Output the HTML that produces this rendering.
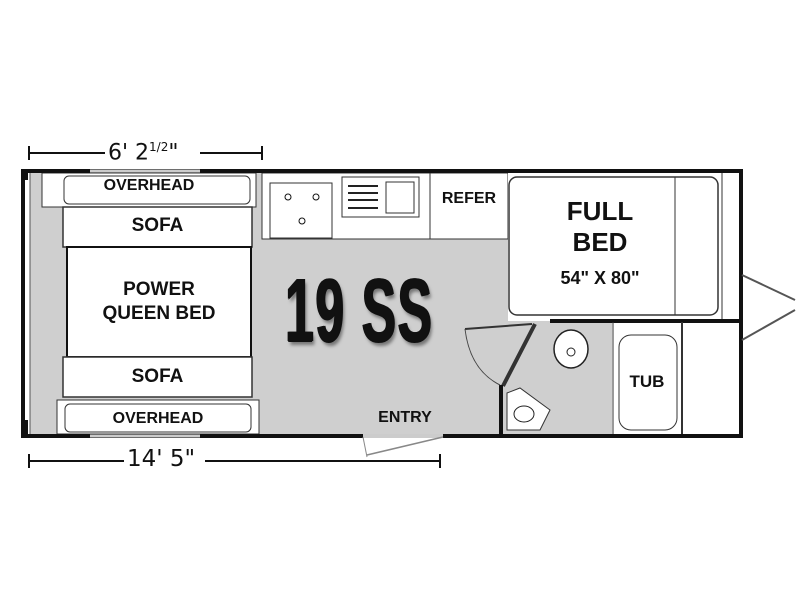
<!DOCTYPE html><html><head><style>
body{margin:0;width:800px;height:600px;background:#fff;position:relative;overflow:hidden;font-family:"Liberation Sans",sans-serif}
.a{position:absolute;box-sizing:border-box}
.t{position:absolute;font-weight:bold;color:#111;text-align:center;white-space:nowrap}
</style></head><body>
<svg class="a" style="left:0;top:0" width="800" height="600">
<g stroke="#111" stroke-width="2">
<line x1="29" y1="153" x2="105" y2="153"/><line x1="29" y1="146" x2="29" y2="160"/>
<line x1="200" y1="153" x2="262" y2="153"/><line x1="262" y1="146" x2="262" y2="160"/>
<line x1="29" y1="461" x2="124" y2="461"/><line x1="29" y1="454" x2="29" y2="468"/>
<line x1="205" y1="461" x2="440" y2="461"/><line x1="440" y1="454" x2="440" y2="468"/>
</g>
<rect x="24" y="172" width="716" height="264" fill="#cfcfcf"/>
<rect x="24" y="172" width="6" height="264" fill="#fff" stroke="#555"/>
<rect x="42" y="173" width="214" height="34" fill="#fff" stroke="#333"/>
<rect x="63" y="207" width="189" height="40" fill="#fff" stroke="#333" stroke-width="1.5"/>
<rect x="67" y="247" width="184" height="110" fill="#fff" stroke="#111" stroke-width="2"/>
<rect x="63" y="357" width="189" height="40" fill="#fff" stroke="#333" stroke-width="1.5"/>
<rect x="57" y="400" width="202" height="34" fill="#fff" stroke="#333"/>
<rect x="65" y="404" width="186" height="28" rx="5" fill="none" stroke="#333"/>
<rect x="64" y="176" width="186" height="28" rx="5" fill="none" stroke="#333"/>
<rect x="262" y="173" width="168" height="66" fill="#fff" stroke="#333"/>
<rect x="270" y="183" width="62" height="55" fill="#fff" stroke="#333"/>
<circle cx="288" cy="197" r="3" fill="none" stroke="#111"/><circle cx="316" cy="197" r="3" fill="none" stroke="#111"/><circle cx="302" cy="221" r="3" fill="none" stroke="#111"/>
<rect x="342" y="177" width="77" height="40" fill="#fff" stroke="#333"/>
<rect x="386" y="182" width="28" height="31" fill="#fff" stroke="#333"/>
<g stroke="#222" stroke-width="2"><line x1="348" y1="186" x2="378" y2="186"/><line x1="348" y1="193" x2="378" y2="193"/><line x1="348" y1="200" x2="378" y2="200"/><line x1="348" y1="208" x2="378" y2="208"/></g>
<rect x="430" y="173" width="78" height="66" fill="#fff" stroke="#333"/>
<rect x="508" y="173" width="232" height="148" fill="#fff"/>
<rect x="509" y="177" width="209" height="138" rx="8" fill="#fff" stroke="#333" stroke-width="1.5"/>
<line x1="675" y1="177" x2="675" y2="315" stroke="#333"/>
<line x1="722" y1="173" x2="722" y2="435" stroke="#333"/>
<rect x="612" y="322" width="128" height="113" fill="#fff"/>
<line x1="550" y1="321" x2="742" y2="321" stroke="#111" stroke-width="4"/>
<line x1="465" y1="329" x2="532" y2="324" stroke="#333" stroke-width="2"/>
<line x1="535" y1="324" x2="503" y2="386" stroke="#333" stroke-width="4"/>
<line x1="501" y1="385" x2="501" y2="436" stroke="#111" stroke-width="4"/>
<path d="M465 329 Q470 370 500 385" fill="none" stroke="#444"/>
<line x1="613" y1="322" x2="613" y2="436" stroke="#333"/>
<line x1="682" y1="322" x2="682" y2="436" stroke="#333" stroke-width="2"/>
<rect x="619" y="335" width="58" height="95" rx="12" fill="#fff" stroke="#333"/>
<ellipse cx="571" cy="349" rx="17" ry="19" fill="#fff" stroke="#222" stroke-width="1.5"/>
<circle cx="571" cy="352" r="4" fill="none" stroke="#222"/>
<path d="M507 393 L520 388 L550 410 L540 430 L507 430 Z" fill="#fff" stroke="#333"/>
<ellipse cx="524" cy="414" rx="10" ry="8" fill="#fff" stroke="#222"/>
<rect x="23" y="171" width="718" height="265" fill="none" stroke="#111" stroke-width="4"/>
<rect x="21" y="170" width="7" height="10" fill="#111"/><rect x="21" y="420" width="7" height="15" fill="#111"/>
<line x1="90" y1="171" x2="200" y2="171" stroke="#ccc" stroke-width="3"/>
<line x1="90" y1="436" x2="200" y2="436" stroke="#ccc" stroke-width="3"/>
<line x1="363" y1="436" x2="443" y2="436" stroke="#ccc" stroke-width="4"/>
<line x1="367" y1="455" x2="443" y2="437" stroke="#888" stroke-width="1.5"/>
<line x1="363" y1="437" x2="367" y2="457" stroke="#888"/>
<g stroke="#555" stroke-width="2"><line x1="742" y1="275" x2="795" y2="300"/><line x1="742" y1="340" x2="795" y2="310"/></g>
</svg>
<div class="t" style="left:108px;top:140px;font-size:22px;font-weight:normal;font-family:'DejaVu Sans',sans-serif">6' 2<sup style="font-size:12px">1/2</sup>"</div>
<div class="t" style="left:127px;top:446px;font-size:23px;font-weight:normal;font-family:'DejaVu Sans',sans-serif">14' 5"</div>
<div class="t" style="left:42px;top:177px;width:214px;font-size:16px">OVERHEAD</div>
<div class="t" style="left:63px;top:215px;width:189px;font-size:19px">SOFA</div>
<div class="t" style="left:67px;top:278px;width:184px;font-size:19px;line-height:24px">POWER<br>QUEEN BED</div>
<div class="t" style="left:63px;top:366px;width:189px;font-size:19px">SOFA</div>
<div class="t" style="left:57px;top:410px;width:202px;font-size:16px">OVERHEAD</div>
<div class="t" style="left:430px;top:190px;width:78px;font-size:16px">REFER</div>
<div class="t" style="left:540px;top:196px;width:120px;font-size:26px;line-height:31px">FULL<br>BED</div>
<div class="t" style="left:540px;top:268px;width:120px;font-size:18px">54" X 80"</div>
<div class="t" style="left:622px;top:372px;width:50px;font-size:17px">TUB</div>
<div class="t" style="left:360px;top:409px;width:90px;font-size:16px">ENTRY</div>
<div class="t" style="left:285px;top:266px;font-size:90px;line-height:90px;transform:scaleX(0.57);transform-origin:left top;letter-spacing:3px;text-shadow:2px 0 0 #111,-1px 0 0 #111,0 1px 0 #111,4px 4px 4px #777">19 SS</div>
</body></html>
